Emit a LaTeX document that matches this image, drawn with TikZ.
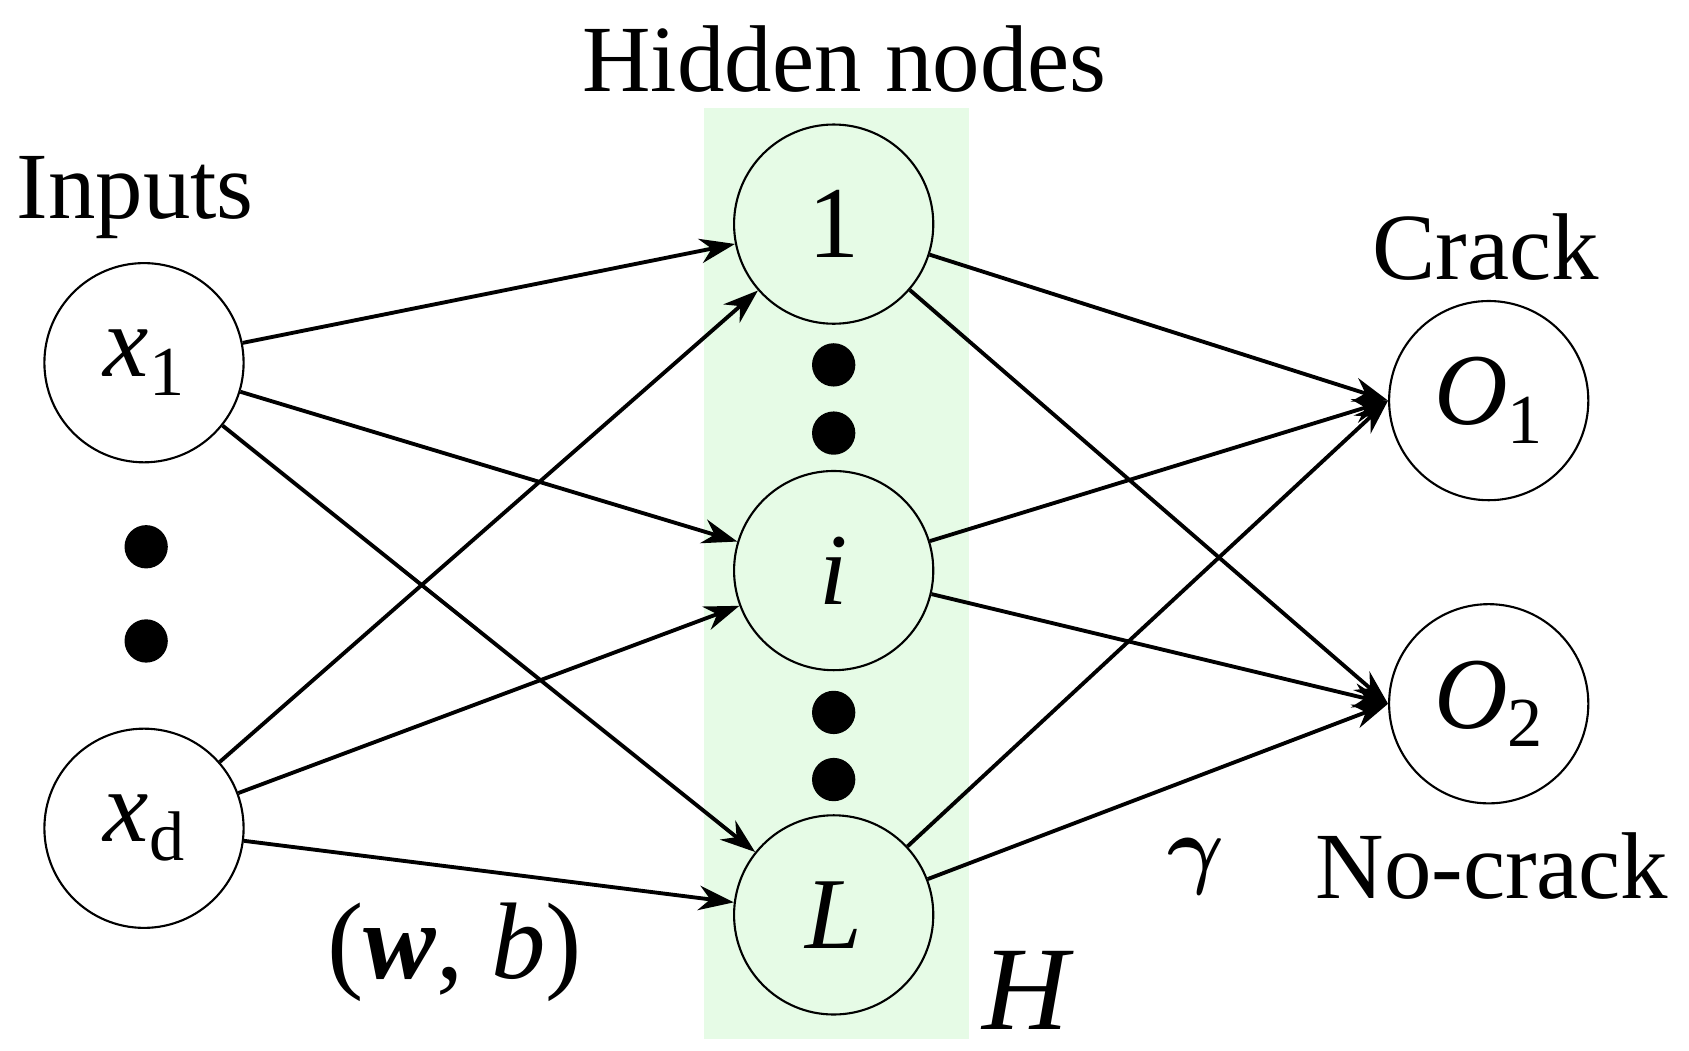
\documentclass[tikz,border=0pt]{standalone}
\usepackage{amsmath,amsbsy}
\usepackage{fontspec}
\setmainfont{Liberation Serif}
\usetikzlibrary{arrows.meta}
\definecolor{band}{RGB}{230,251,230}
\newcommand{\sub}[1]{\raisebox{-0.4ex}{\fontsize{20}{20}\selectfont #1}}
\begin{document}
\begin{tikzpicture}[x=0.01083cm,y=-0.01083cm,
  neuron/.style={circle,draw,line width=0.6pt,minimum size=184*0.01083cm,inner sep=0pt,font=\fontsize{29}{29}\selectfont},
  lbl/.style={font=\fontsize{27}{27}\selectfont},
  dot/.style={circle,fill=black,inner sep=0pt,minimum size=40*0.01083cm},
  edge/.style={-{Stealth[length=10pt,width=7pt]},line width=1.1pt}]
\useasboundingbox (0,0) rectangle (1560,970);
\fill[band] (650,100) rectangle (895,960);
\node[lbl] (th) at (780,55) {Hidden nodes};
\node[lbl] (tin) at (125,182) {Inputs};
\node[lbl] (tc) at (1372,228) {Crack};
\node[lbl] (tn) at (1378,800) {No-crack};
\node[neuron] (x1) at (133,335) {\textit{x}\sub{1}};
\node[neuron] (xd) at (133,765) {\textit{x}\sub{d}};
\node[neuron,fill=band] (h1) at (770,207) {1};
\node[neuron,fill=band] (hi) at (770,527) {\textit{i}};
\node[neuron,fill=band] (hL) at (770,845) {\textit{L}};
\node[neuron] (o1) at (1375,370) {\textit{O}\sub{1}};
\node[neuron] (o2) at (1375,650) {\textit{O}\sub{2}};
\foreach \n/\x/\y in {d1/135/505,d2/135/592,d3/770/337,d4/770/400,d5/770/658,d6/770/720}
  \node[dot] (\n) at (\x,\y) {};
\foreach \a in {x1,xd}
  \foreach \b in {h1,hi,hL}
    \draw[edge] (\a) -- (\b);
\foreach \a in {h1,hi,hL}
  \foreach \b in {o1,o2}
    \draw[edge] (\a) -- (\b.west);
\node[lbl] (wb) at (420,880) {\fontsize{31}{31}\selectfont(\textbf{\textit{w}}, \textit{b})};
\node[lbl] (g) at (1105,800) {\fontsize{34}{34}\selectfont$\boldsymbol{\gamma}$};
\node[lbl] (H) at (950,915) {\fontsize{34}{34}\selectfont\textit{H}};
\end{tikzpicture}
\end{document}
